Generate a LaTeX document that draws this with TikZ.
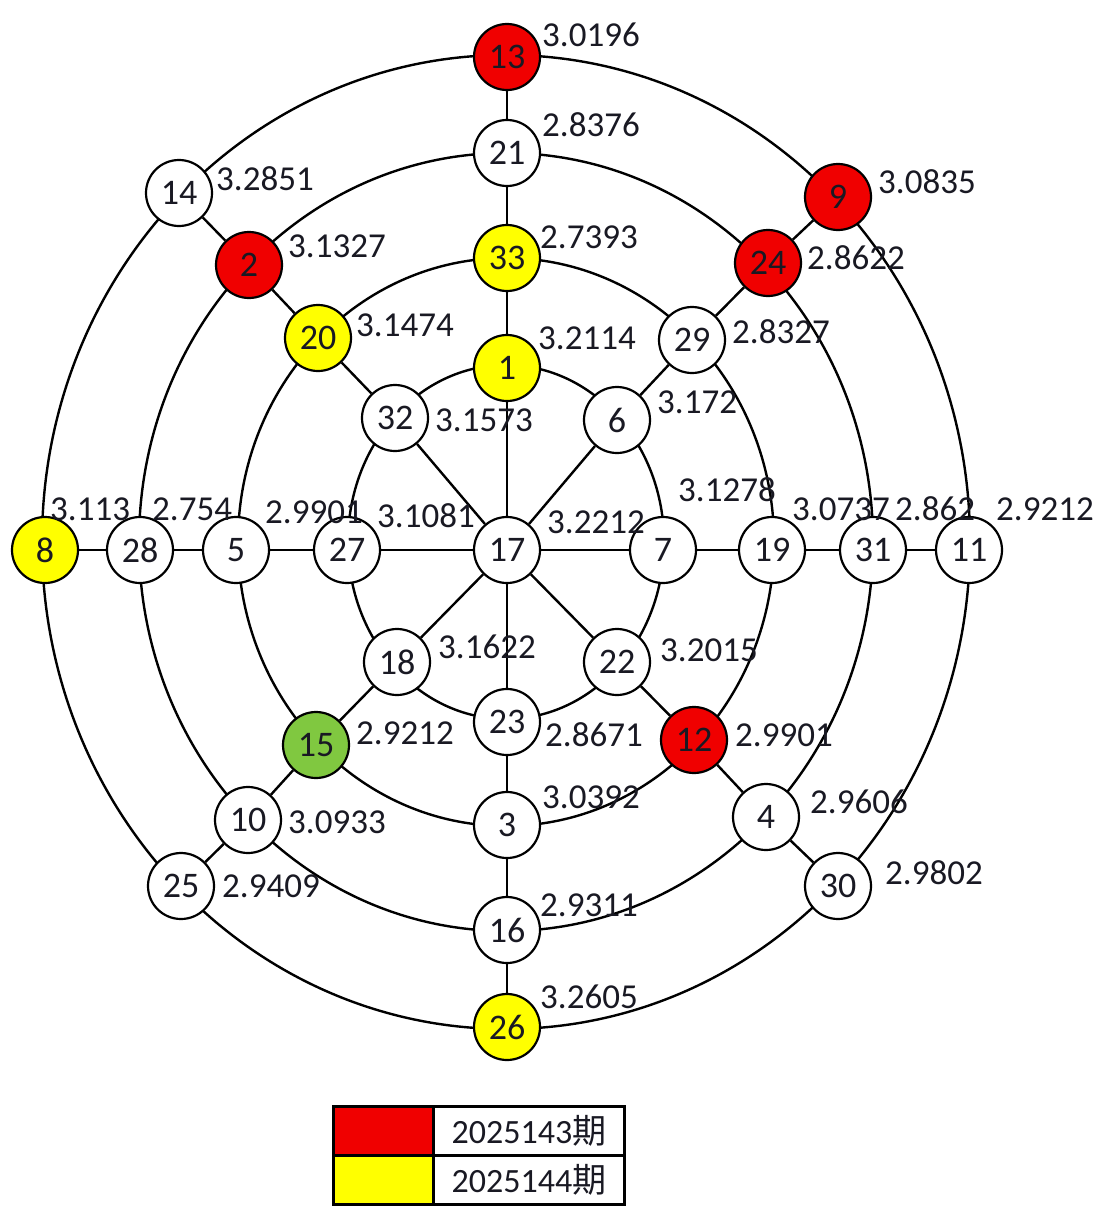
\documentclass[tikz,border=0pt]{standalone}
\usepackage{fontspec}
\setmainfont{Carlito}
\newfontfamily\cjk{Noto Sans CJK SC}
\definecolor{nred}{RGB}{240,0,0}
\definecolor{nyel}{RGB}{255,255,0}
\definecolor{ngreen}{RGB}{128,200,64}
\definecolor{ink}{RGB}{25,25,35}
\begin{document}
\begin{tikzpicture}[x=1pt,y=-1pt,
  ball/.style={circle,draw=black,line width=2.2pt,minimum size=66pt,inner sep=0pt,fill=white,text=ink,font=\fontsize{36}{40}\selectfont},
  val/.style={anchor=west,inner sep=0pt,text=ink,font=\fontsize{35}{40}\selectfont},
  ring/.style={line width=2.4pt},
  spoke/.style={line width=2.4pt},
  cell/.style={draw=black,line width=2.8pt,anchor=north west,inner sep=0pt,minimum height=49pt,text=ink,font=\fontsize{34}{40}\selectfont}]
\path[use as bounding box] (0,0) rectangle (1112,1220);
\fill[white] (0,0) rectangle (1112,1220);
\coordinate (C) at (506,542);
% rings
\draw[ring] (C) ellipse [x radius=158pt, y radius=177pt];
\draw[ring] (C) ellipse [x radius=268pt, y radius=284pt];
\draw[ring] (C) ellipse [x radius=367pt, y radius=389pt];
\draw[ring] (C) ellipse [x radius=464pt, y radius=487pt];
% nodes
\node[ball] (n17) at (507,550) {17};
% ring 1
\node[ball,fill=nyel] (n1) at (507,368) {1};
\node[ball] (n23) at (507,722) {23};
\node[ball] (n27) at (347,550) {27};
\node[ball] (n7) at (663,550) {7};
\node[ball] (n32) at (395,418) {32};
\node[ball] (n6) at (617,420) {6};
\node[ball] (n22) at (617,662) {22};
\node[ball] (n18) at (397,662) {18};
% ring 2
\node[ball,fill=nyel] (n33) at (507,258) {33};
\node[ball] (n3) at (507,825) {3};
\node[ball] (n5) at (236,550) {5};
\node[ball] (n19) at (772,550) {19};
\node[ball,fill=nyel] (n20) at (318,338) {20};
\node[ball] (n29) at (692,340) {29};
\node[ball,fill=nred] (n12) at (694,740) {12};
\node[ball,fill=ngreen] (n15) at (316,745) {15};
% ring 3
\node[ball] (n21) at (507,153) {21};
\node[ball] (n16) at (507,930) {16};
\node[ball] (n28) at (140,550) {28};
\node[ball] (n31) at (873,550) {31};
\node[ball,fill=nred] (n2) at (249,265) {2};
\node[ball,fill=nred] (n24) at (768,263) {24};
\node[ball] (n4) at (766,817) {4};
\node[ball] (n10) at (248,820) {10};
% ring 4
\node[ball,fill=nred] (n13) at (507,57) {13};
\node[ball,fill=nyel] (n26) at (507,1027) {26};
\node[ball,fill=nyel] (n8) at (45,550) {8};
\node[ball] (n11) at (969,550) {11};
\node[ball] (n14) at (179,193) {14};
\node[ball,fill=nred] (n9) at (838,197) {9};
\node[ball] (n30) at (838,886) {30};
\node[ball] (n25) at (181,886) {25};
% spokes
\draw[spoke] (n13) -- (n21) -- (n33) -- (n1) -- (n17) -- (n23) -- (n3) -- (n16) -- (n26);
\draw[spoke] (n8) -- (n28) -- (n5) -- (n27) -- (n17) -- (n7) -- (n19) -- (n31) -- (n11);
\draw[spoke] (n17) -- (n32) -- (n20) -- (n2) -- (n14);
\draw[spoke] (n17) -- (n6) -- (n29) -- (n24) -- (n9);
\draw[spoke] (n17) -- (n22) -- (n12) -- (n4) -- (n30);
\draw[spoke] (n17) -- (n18) -- (n15) -- (n10) -- (n25);
% values
\node[val] (v13) at (542,35) {3.0196};
\node[val] (v21) at (542,125) {2.8376};
\node[val] (v14) at (216,179) {3.2851};
\node[val] (v9) at (878,182) {3.0835};
\node[val] (v2) at (288,246) {3.1327};
\node[val] (v33) at (540,237) {2.7393};
\node[val] (v24) at (807,258) {2.8622};
\node[val] (v20) at (356,325) {3.1474};
\node[val] (v29) at (732,332) {2.8327};
\node[val] (v1) at (538,338) {3.2114};
\node[val] (v6) at (657,402) {3.172};
\node[val] (v32) at (435,420) {3.1573};
\node[val] (v7) at (678,490) {3.1278};
\node[val] (v8) at (50,509) {3.113};
\node[val] (v28) at (152,509) {2.754};
\node[val] (v5) at (265,512) {2.9901};
\node[val] (v27) at (377,516) {3.1081};
\node[val] (v17) at (547,522) {3.2212};
\node[val] (v19) at (792,509) {3.0737};
\node[val] (v31) at (895,509) {2.862};
\node[val] (v11) at (996,509) {2.9212};
\node[val] (v18) at (438,647) {3.1622};
\node[val] (v22) at (660,650) {3.2015};
\node[val] (v15) at (356,733) {2.9212};
\node[val] (v23) at (545,735) {2.8671};
\node[val] (v12) at (735,735) {2.9901};
\node[val] (v3) at (542,797) {3.0392};
\node[val] (v4) at (810,802) {2.9606};
\node[val] (v30) at (885,873) {2.9802};
\node[val] (v10) at (288,822) {3.0933};
\node[val] (v25) at (222,886) {2.9409};
\node[val] (v16) at (540,905) {2.9311};
\node[val] (v26) at (540,997) {3.2605};
% legend
\node[cell,fill=nred,minimum width=100pt] (k1) at (332,1105) {};
\node[cell,minimum width=191pt] (t1) at (432,1105) {2025143{\cjk 期}};
\node[cell,fill=nyel,minimum width=100pt] (k2) at (332,1154) {};
\node[cell,minimum width=191pt] (t2) at (432,1154) {2025144{\cjk 期}};
\end{tikzpicture}
\end{document}
